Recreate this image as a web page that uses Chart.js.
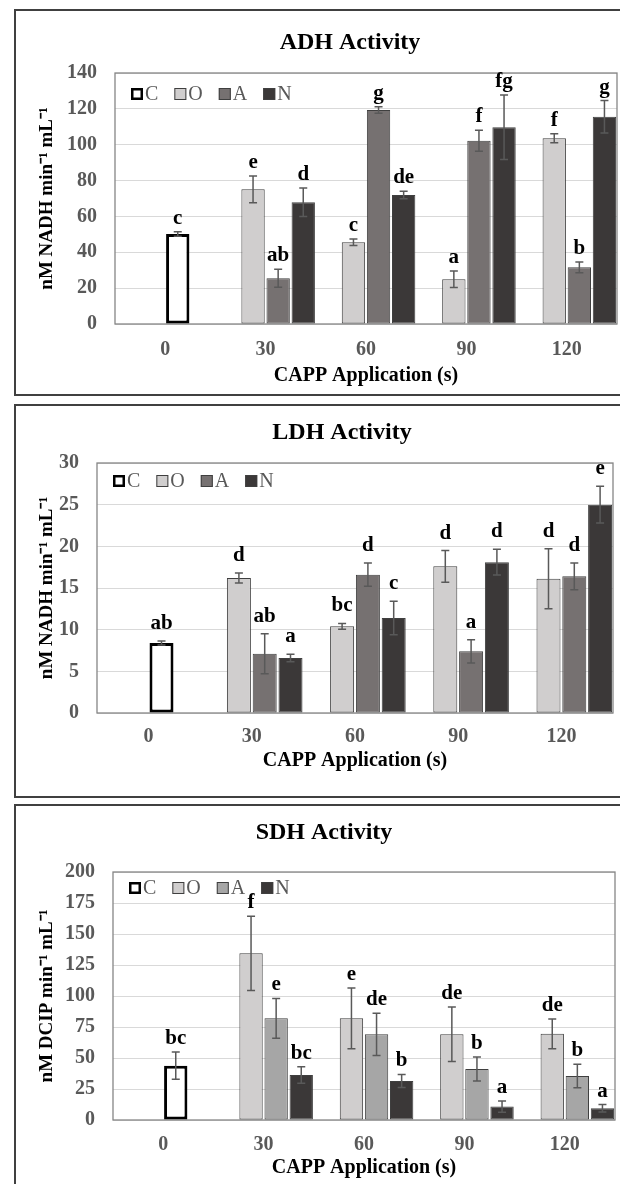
<!DOCTYPE html>
<html>
<head>
<meta charset="utf-8">
<script src="https://cdn.jsdelivr.net/npm/chart.js@4.4.1/dist/chart.umd.min.js"></script>
<style>
  html, body { margin: 0; padding: 0; background: #fff; width: 620px; height: 1184px; overflow: hidden; position: relative; }
  .panel { position: absolute; left: 14px; width: 720px; border: 2px solid #404040; box-sizing: border-box; }
  canvas { position: absolute; }
</style>
</head>
<body>
<div class="panel" style="top:9px;height:387px"></div>
<div class="panel" style="top:404px;height:394px"></div>
<div class="panel" style="top:804px;height:420px"></div>
<canvas id="adh-chart" width="670" height="383" style="left:15px;top:11px"></canvas>
<canvas id="ldh-chart" width="654" height="390" style="left:15px;top:406px"></canvas>
<canvas id="sdh-chart" width="618" height="378" style="left:15px;top:806px"></canvas>
<script>
const categories = ['0', '30', '60', '90', '120'];
const seriesNames = ['C', 'O', 'A', 'N'];

// ADH activity
const adhC = [50.2, null, null, null, null];
const adhO = [null, 75.1, 45.6, 24.9, 103.6];
const adhA = [null, 25.5, 119.4, 102.2, 31.6];
const adhN = [null, 67.9, 71.9, 109.7, 115.6];
const adhCErr = [1.2, null, null, null, null];
const adhOErr = [null, 7.5, 1.8, 4.6, 2.5];
const adhAErr = [null, 5.0, 1.8, 5.8, 3.0];
const adhNErr = [null, 8.0, 2.1, 18.0, 9.0];
const adhCLetters = ['c', '', '', '', ''];
const adhOLetters = ['', 'e', 'c', 'a', 'f'];
const adhALetters = ['', 'ab', 'g', 'f', 'b'];
const adhNLetters = ['', 'd', 'de', 'fg', 'g'];
const adhTicks = [0, 140, 20];

// LDH activity
const ldhC = [8.4, null, null, null, null];
const ldhO = [null, 16.2, 10.4, 17.6, 16.1];
const ldhA = [null, 7.1, 16.6, 7.4, 16.4];
const ldhN = [null, 6.6, 11.4, 18.1, 25.0];
const ldhCErr = [0.25, null, null, null, null];
const ldhOErr = [null, 0.6, 0.35, 1.9, 3.6];
const ldhAErr = [null, 2.4, 1.4, 1.4, 1.6];
const ldhNErr = [null, 0.45, 2.0, 1.55, 2.2];
const ldhCLetters = ['ab', '', '', '', ''];
const ldhOLetters = ['', 'd', 'bc', 'd', 'd'];
const ldhALetters = ['', 'ab', 'd', 'a', 'd'];
const ldhNLetters = ['', 'a', 'c', 'd', 'e'];
const ldhTicks = [0, 30, 5];

// SDH activity
const sdhC = [43.8, null, null, null, null];
const sdhO = [null, 134.4, 82.0, 69.1, 69.5];
const sdhA = [null, 82.0, 69.1, 41.1, 35.5];
const sdhN = [null, 36.3, 31.5, 10.8, 9.4];
const sdhCErr = [11.0, null, null, null, null];
const sdhOErr = [null, 30.0, 24.5, 22.0, 12.0];
const sdhAErr = [null, 16.0, 17.0, 9.7, 9.5];
const sdhNErr = [null, 6.6, 5.2, 4.5, 3.0];
const sdhCLetters = ['bc', '', '', '', ''];
const sdhOLetters = ['', 'f', 'e', 'de', 'de'];
const sdhALetters = ['', 'e', 'de', 'b', 'b'];
const sdhNLetters = ['', 'bc', 'b', 'a', 'a'];
const sdhTicks = [0, 200, 25];

const SERIF = '"Liberation Serif", "Times New Roman", serif';
Chart.defaults.font.family = SERIF;

// plot frame, drawn under the bars
const framePlugin = {
    id: 'frame',
    beforeDatasetsDraw(chart) {
        const {ctx, chartArea} = chart;
        ctx.save();
        ctx.strokeStyle = '#868686';
        ctx.lineWidth = 1.3;
        ctx.strokeRect(chartArea.left, chartArea.top, chartArea.right - chartArea.left, chartArea.bottom - chartArea.top);
        ctx.restore();
    }
};

// error bars + significance letters
const errorBarPlugin = {
    id: 'errorBars',
    afterDatasetsDraw(chart, args, opts) {
        const ctx = chart.ctx;
        const yScale = chart.scales.y;
        ctx.save();
        chart.data.datasets.forEach((ds, di) => {
            if (!ds.errors) return;
            const meta = chart.getDatasetMeta(di);
            meta.data.forEach((bar, i) => {
                const v = ds.data[i];
                if (v === null || v === undefined) return;
                const e = ds.errors[i] || 0;
                const top = yScale.getPixelForValue(v + e);
                const bot = yScale.getPixelForValue(v - e);
                ctx.strokeStyle = '#595959';
                ctx.lineWidth = 1.5;
                ctx.beginPath();
                ctx.moveTo(bar.x, top); ctx.lineTo(bar.x, bot);
                ctx.moveTo(bar.x - 4, top); ctx.lineTo(bar.x + 4, top);
                ctx.moveTo(bar.x - 4, bot); ctx.lineTo(bar.x + 4, bot);
                ctx.stroke();
                ctx.fillStyle = '#000';
                ctx.font = 'bold 21px ' + SERIF;
                ctx.textAlign = 'center';
                ctx.textBaseline = 'alphabetic';
                ctx.fillText(ds.letters[i], bar.x, top - opts.gap);
            });
        });
        ctx.restore();
    }
};

// legend row inside the plot area
const boxLegendPlugin = {
    id: 'boxLegend',
    afterDraw(chart, args, opts) {
        const {ctx, chartArea} = chart;
        let x = chartArea.left + 16;
        const yc = chartArea.top + opts.dy;
        ctx.save();
        ctx.font = '20px ' + SERIF;
        ctx.textBaseline = 'middle';
        ctx.textAlign = 'left';
        seriesNames.forEach(name => {
            const ds = chart.data.datasets.find(d => d.label === name);
            const bw = ds.borderWidth > 2 ? 2.5 : 1;
            ctx.fillStyle = ds.backgroundColor;
            ctx.fillRect(x, yc - 6, 12, 12);
            ctx.strokeStyle = ds.borderColor;
            ctx.lineWidth = bw;
            ctx.strokeRect(x + bw / 2, yc - 6 + bw / 2, 12 - bw, 12 - bw);
            ctx.fillStyle = '#595959';
            ctx.fillText(name, x + 14, yc + 1);
            x += 14 + ctx.measureText(name).width + 16;
        });
        ctx.restore();
    }
};

function makeChart(id, p) {
    const barBase = { borderWidth: 1, borderColor: '#3f3f3f', borderSkipped: false, barPercentage: 0.93, categoryPercentage: 1.0 };
    const datasets = [
        { label: '', data: [null, null, null, null, null], stack: 's0', ...barBase },
        { label: 'O', data: p.O, errors: p.OErr, letters: p.OLet, stack: 's1', ...barBase, backgroundColor: '#d0cece' },
        { label: 'C', data: p.C, errors: p.CErr, letters: p.CLet, stack: 's2', ...barBase, backgroundColor: '#ffffff', borderColor: '#000000', borderWidth: 3 },
        { label: 'A', data: p.A, errors: p.AErr, letters: p.ALet, stack: 's2', ...barBase, backgroundColor: p.aColor },
        { label: 'N', data: p.N, errors: p.NErr, letters: p.NLet, stack: 's3', ...barBase, backgroundColor: '#3b3838' }
    ];
    return new Chart(document.getElementById(id), {
        type: 'bar',
        data: { labels: categories, datasets: datasets },
        options: {
            responsive: false,
            animation: false,
            layout: { padding: 0 },
            plugins: {
                legend: { display: false },
                tooltip: { enabled: false },
                title: {
                    display: true, text: p.title, color: '#000',
                    font: { size: 24, weight: 'bold' },
                    padding: { top: p.titleTop, bottom: p.titleBottom }
                },
                errorBars: { gap: p.letterGap },
                boxLegend: { dy: p.legendDy }
            },
            scales: {
                x: {
                    grid: { display: false, drawTicks: false },
                    border: { display: false },
                    ticks: { color: '#595959', font: { size: 20, weight: 'bold' }, padding: p.xTickPad },
                    title: { display: true, text: 'CAPP Application (s)', color: '#000', font: { size: 20, weight: 'bold' }, padding: { top: 0, bottom: p.xTitlePad } },
                    afterFit: s => { s.height = p.xHeight; }
                },
                y: {
                    stacked: false,
                    min: p.ticks[0], max: p.ticks[1],
                    grid: { color: '#d9d9d9', lineWidth: 1, drawTicks: false },
                    border: { display: false },
                    ticks: { stepSize: p.ticks[2], color: '#595959', font: { size: 20, weight: 'bold' }, padding: 18 },
                    title: { display: true, text: p.yTitle, color: '#000', font: { size: 19, weight: 'bold' }, padding: { top: p.yTitlePad, bottom: 0 } },
                    afterFit: s => { s.width = p.yWidth; }
                },
                yr: {
                    position: 'right', min: 0, max: 1,
                    grid: { display: false, drawTicks: false },
                    border: { display: false },
                    ticks: { display: false },
                    afterFit: s => { s.width = p.rightGap; }
                }
            }
        },
        plugins: [framePlugin, errorBarPlugin, boxLegendPlugin]
    });
}

makeChart('adh-chart', {
    title: 'ADH Activity', yTitle: 'nM NADH min\u207B\u00B9 mL\u207B\u00B9',
    C: adhC, O: adhO, A: adhA, N: adhN,
    CErr: adhCErr, OErr: adhOErr, AErr: adhAErr, NErr: adhNErr,
    CLet: adhCLetters, OLet: adhOLetters, ALet: adhALetters, NLet: adhNLetters,
    ticks: adhTicks, aColor: '#767171',
    titleTop: 17.6, titleBottom: 15.6, xHeight: 70, xTickPad: 14, xTitlePad: 6,
    yWidth: 100, yTitlePad: 20.6, rightGap: 68, letterGap: 8, legendDy: 21
});

makeChart('ldh-chart', {
    title: 'LDH Activity', yTitle: 'nM NADH min\u207B\u00B9 mL\u207B\u00B9',
    C: ldhC, O: ldhO, A: ldhA, N: ldhN,
    CErr: ldhCErr, OErr: ldhOErr, AErr: ldhAErr, NErr: ldhNErr,
    CLet: ldhCLetters, OLet: ldhOLetters, ALet: ldhALetters, NLet: ldhNLetters,
    ticks: ldhTicks, aColor: '#767171',
    titleTop: 12.6, titleBottom: 15.6, xHeight: 83, xTickPad: 12, xTitlePad: 23,
    yWidth: 82, yTitlePad: 20.6, rightGap: 56, letterGap: 12, legendDy: 18
});

makeChart('sdh-chart', {
    title: 'SDH Activity', yTitle: 'nM DCIP min\u207B\u00B9 mL\u207B\u00B9',
    C: sdhC, O: sdhO, A: sdhA, N: sdhN,
    CErr: sdhCErr, OErr: sdhOErr, AErr: sdhAErr, NErr: sdhNErr,
    CLet: sdhCLetters, OLet: sdhOLetters, ALet: sdhALetters, NLet: sdhNLetters,
    ticks: sdhTicks, aColor: '#a6a6a6',
    titleTop: 12.6, titleBottom: 24.6, xHeight: 64, xTickPad: 13, xTitlePad: 4,
    yWidth: 98, yTitlePad: 20.6, rightGap: 18, letterGap: 8, legendDy: 16
});
</script>
</body>
</html>
